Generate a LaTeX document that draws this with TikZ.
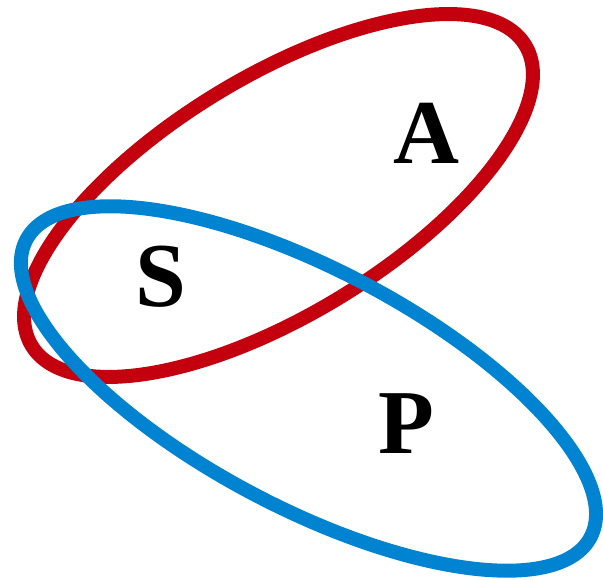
\documentclass[tikz,border=0pt]{standalone}
\usepackage{fontspec}
\setmainfont{Liberation Serif}
\definecolor{setred}{HTML}{C4000F}
\definecolor{setblue}{HTML}{0084D1}
\begin{document}
\begin{tikzpicture}[
  x=0.02cm, y=0.02cm,
  ring/.style={line width=0.28cm},
  letter/.style={font=\fontsize{52}{52}\selectfont\bfseries, inner sep=0pt}
]
\useasboundingbox (0,0) rectangle (603,580);
\coordinate (redc) at (278.5,384.5);
\coordinate (bluec) at (308.5,191.5);
\draw[ring, setred, rotate around={31.35:(redc)}] (redc) ellipse [x radius=5.78cm, y radius=2.38cm];
\draw[ring, setblue, rotate around={-27.8:(bluec)}] (bluec) ellipse [x radius=6.38cm, y radius=2.38cm];
\node[letter] (setA) at (426,447) {A};
\node[letter] (setS) at (161,303) {S};
\node[letter] (setP) at (406,156) {P};
\end{tikzpicture}
\end{document}
